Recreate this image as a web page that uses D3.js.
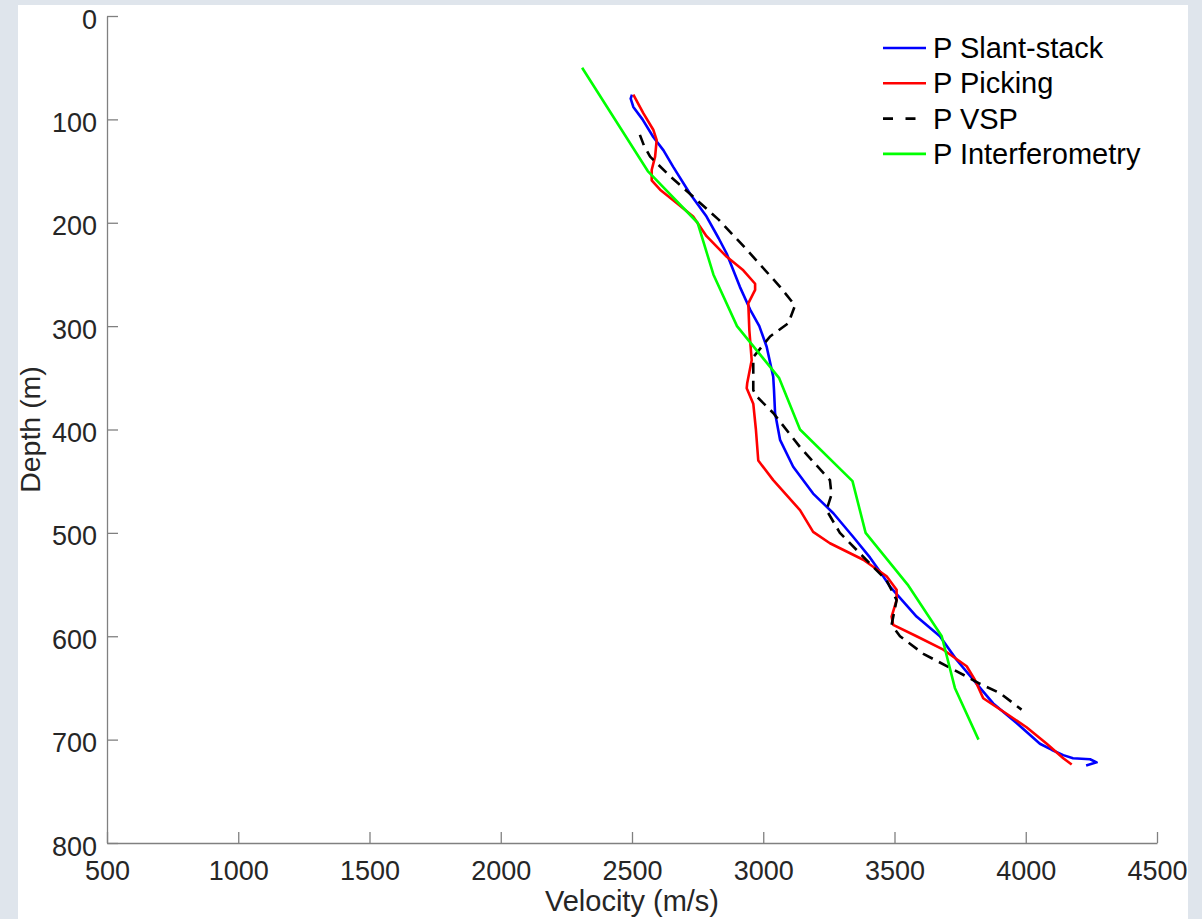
<!DOCTYPE html>
<html>
<head>
<meta charset="utf-8">
<script src="https://cdn.jsdelivr.net/npm/d3@7/dist/d3.min.js"></script>
<style>
  body { margin: 0; background: #dfe5ec; }
  svg { display: block; }
  text { font-family: Helvetica, Arial, "Liberation Sans", sans-serif; }
</style>
</head>
<body>
<div id="chart"></div>
<script>
// P-wave velocity profiles, [velocity m/s, depth m]
const slantStack = [
    [2500, 76], [2495, 80], [2505, 88], [2540, 100], [2581, 117], [2620, 130], [2657, 146],
    [2721, 172], [2784, 194], [2830, 215], [2861, 230], [2911, 262], [2950, 284], [2985, 300],
    [3013, 320], [3038, 349], [3041, 362], [3045, 384], [3064, 410], [3114, 436], [3190, 462],
    [3267, 481], [3343, 504], [3407, 524], [3457, 542], [3483, 552], [3584, 581], [3673, 600],
    [3737, 623], [3800, 642], [3813, 646], [3876, 665], [3965, 684], [4054, 704], [4100, 710],
    [4143, 715], [4180, 718], [4245, 719], [4270, 722], [4230, 725]
];
const picking = [
    [2505, 76], [2543, 94], [2581, 110], [2594, 120], [2588, 136], [2575, 149], [2575, 159],
    [2607, 168], [2670, 181], [2733, 194], [2784, 213], [2861, 233], [2924, 246], [2969, 259],
    [2969, 265], [2943, 278], [2947, 304], [2956, 333], [2939, 355], [2937, 360], [2962, 375],
    [2972, 400], [2981, 430], [3038, 449], [3140, 478], [3190, 499], [3254, 510], [3381, 526],
    [3470, 542], [3508, 555], [3508, 565], [3489, 581], [3495, 589], [3584, 600], [3686, 613],
    [3775, 629], [3806, 642], [3838, 660], [3927, 675], [4003, 688], [4080, 704], [4143, 718],
    [4175, 724]
];
const vsp = [
    [2530, 115], [2545, 125], [2569, 136], [2645, 155], [2725, 173], [2830, 197], [2937, 226],
    [3064, 262], [3121, 280], [3096, 297], [3026, 310], [2962, 330], [2962, 362], [2975, 368],
    [3038, 384], [3140, 417], [3254, 449], [3260, 463], [3241, 478], [3292, 500], [3419, 533],
    [3470, 546], [3508, 565], [3489, 589], [3521, 600], [3610, 617], [3775, 639], [3826, 646],
    [3902, 655], [3984, 671]
];
const interferometry = [
    [2310, 50], [2560, 150], [2750, 200], [2810, 250], [2900, 300], [3060, 350], [3140, 400],
    [3340, 450], [3390, 500], [3550, 550], [3680, 600], [3730, 650], [3820, 700]
];

const seriesNames = ['P Slant-stack', 'P Picking', 'P VSP', 'P Interferometry'];
const seriesColors = ['#0000ff', '#ff0000', '#000000', '#00ff00'];
const seriesDash = [null, null, '11,7', null];
const seriesData = [slantStack, picking, vsp, interferometry];

const xTicks = [500, 1000, 1500, 2000, 2500, 3000, 3500, 4000, 4500];
const yTicks = [0, 100, 200, 300, 400, 500, 600, 700, 800];

const width = 1202, height = 919;
const svg = d3.select('#chart').append('svg').attr('width', width).attr('height', height);

// white figure panel over the grey backdrop
svg.append('rect').attr('x', 18).attr('y', 5).attr('width', 1170).attr('height', 914).attr('fill', '#ffffff');

const x = d3.scaleLinear().domain([500, 4500]).range([107, 1157]);
const y = d3.scaleLinear().domain([0, 800]).range([16, 843]);

const axisColor = '#808080';
const textColor = '#262626';
const fmt = d3.format('d');

// bottom axis, ticks point inward
const xAxis = svg.append('g').attr('transform', 'translate(0,' + y(800) + ')')
    .call(d3.axisBottom(x).tickValues(xTicks).tickFormat(fmt).tickSize(-11).tickSizeOuter(0));
xAxis.select('.domain').attr('stroke', axisColor).attr('stroke-width', 1.3);
xAxis.selectAll('.tick line').attr('stroke', axisColor).attr('stroke-width', 1.3);
xAxis.selectAll('.tick text').attr('fill', textColor).attr('font-size', 27)
    .attr('y', 0).attr('dy', 37);

// left axis
const yAxis = svg.append('g').attr('transform', 'translate(' + x(500) + ',0)')
    .call(d3.axisLeft(y).tickValues(yTicks).tickFormat(fmt).tickSize(-11).tickSizeOuter(0));
yAxis.select('.domain').attr('stroke', axisColor).attr('stroke-width', 1.3);
yAxis.selectAll('.tick line').attr('stroke', axisColor).attr('stroke-width', 1.3);
yAxis.selectAll('.tick text').attr('fill', textColor).attr('font-size', 27)
    .attr('x', -10).attr('dy', 12);

// axis titles
svg.append('text').text('Velocity (m/s)')
    .attr('x', (x(500) + x(4500)) / 2).attr('y', 911)
    .attr('text-anchor', 'middle').attr('font-size', 29).attr('fill', textColor);

svg.append('text').text('Depth (m)')
    .attr('transform', 'translate(40,' + (y(0) + y(800)) / 2 + ') rotate(-90)')
    .attr('text-anchor', 'middle').attr('font-size', 28.5).attr('fill', textColor);

// the profile lines
const line = d3.line().x((d) => x(d[0])).y((d) => y(d[1]));
const plot = svg.append('g');
seriesData.forEach((data, i) => {
    plot.append('path')
        .datum(data)
        .attr('d', line)
        .attr('fill', 'none')
        .attr('stroke', seriesColors[i])
        .attr('stroke-width', 2.6)
        .attr('stroke-linejoin', 'round')
        .attr('stroke-dasharray', seriesDash[i]);
});

// legend, top right
const legend = svg.append('g').attr('transform', 'translate(883,48)');
seriesNames.forEach((name, i) => {
    const row = legend.append('g').attr('transform', 'translate(0,' + i * 35.3 + ')');
    row.append('line')
        .attr('x1', 0).attr('x2', 43).attr('y1', 0).attr('y2', 0)
        .attr('stroke', seriesColors[i]).attr('stroke-width', 2.6)
        .attr('stroke-dasharray', seriesDash[i] ? '10,12.5' : null);
    row.append('text').text(name)
        .attr('x', 50).attr('y', 10)
        .attr('font-size', 29).attr('fill', '#000000');
});
</script>
</body>
</html>
